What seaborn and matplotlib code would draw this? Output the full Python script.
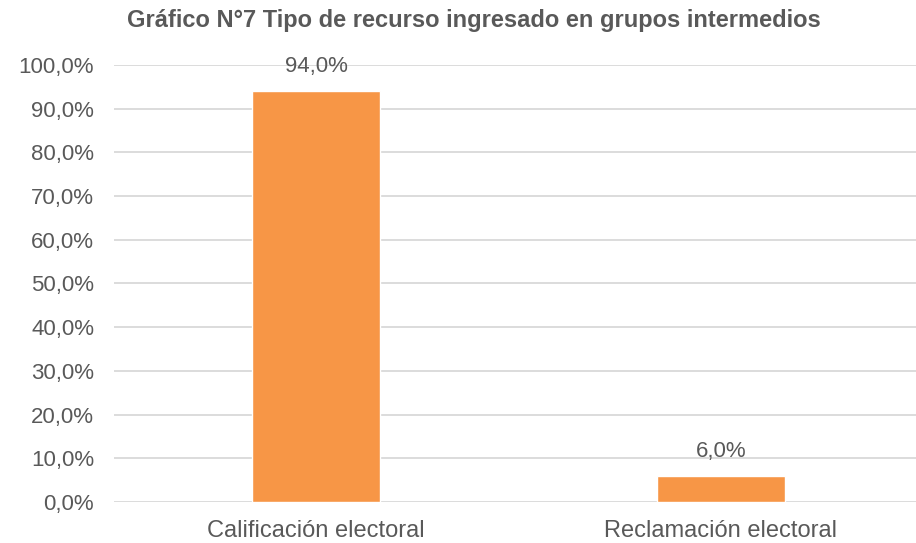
import matplotlib
matplotlib.use("Agg")
import matplotlib.pyplot as plt
import seaborn as sns
import pandas as pd

# data
categorias = ["Calificación electoral", "Reclamación electoral"]
porcentajes = [94.0, 6.0]
yticks = [0, 10, 20, 30, 40, 50, 60, 70, 80, 90, 100]
titulo = "Gráfico N°7 Tipo de recurso ingresado en grupos intermedios"

sns.set_style("white")
plt.rcParams['font.family'] = ['Liberation Sans', 'DejaVu Sans']

df = pd.DataFrame({'categoria': categorias, 'porcentaje': porcentajes})

gris = '#595959'
fig = plt.figure(figsize=(9.16, 5.43), dpi=100)
ax = fig.add_axes([113.5 / 916, 1 - 502 / 543, 1 - 113.5 / 916, (502 - 65) / 543])

sns.barplot(data=df, x='categoria', y='porcentaje', color='#F79646',
            width=128 / 405, saturation=1, ax=ax, zorder=3)

ax.set_xlim(-0.5, (916 - 316) / 405)
ax.set_ylim(0, 100)
ax.set_yticks(yticks)
ax.set_yticklabels([f"{v:.1f}%".replace('.', ',') for v in yticks])
ax.grid(axis='y', color='#D9D9D9', linewidth=1.3, zorder=0)
ax.set_axisbelow(True)
for s in ax.spines.values():
    s.set_visible(False)
ax.tick_params(axis='y', length=0, labelsize=16, colors=gris, pad=14)
ax.tick_params(axis='x', length=0, labelsize=17, colors=gris, pad=13)
ax.set_xlabel('')
ax.set_ylabel('')

for cont in ax.containers:
    ax.bar_label(cont, labels=[f"{v:.1f}%".replace('.', ',') for v in porcentajes],
                 padding=10, fontsize=16, color=gris)

fig.text(474 / 916, 1 - 21 / 543, titulo, ha='center', va='center',
         fontsize=17, fontweight='bold', color=gris)

fig.savefig('out.png', dpi=100)
